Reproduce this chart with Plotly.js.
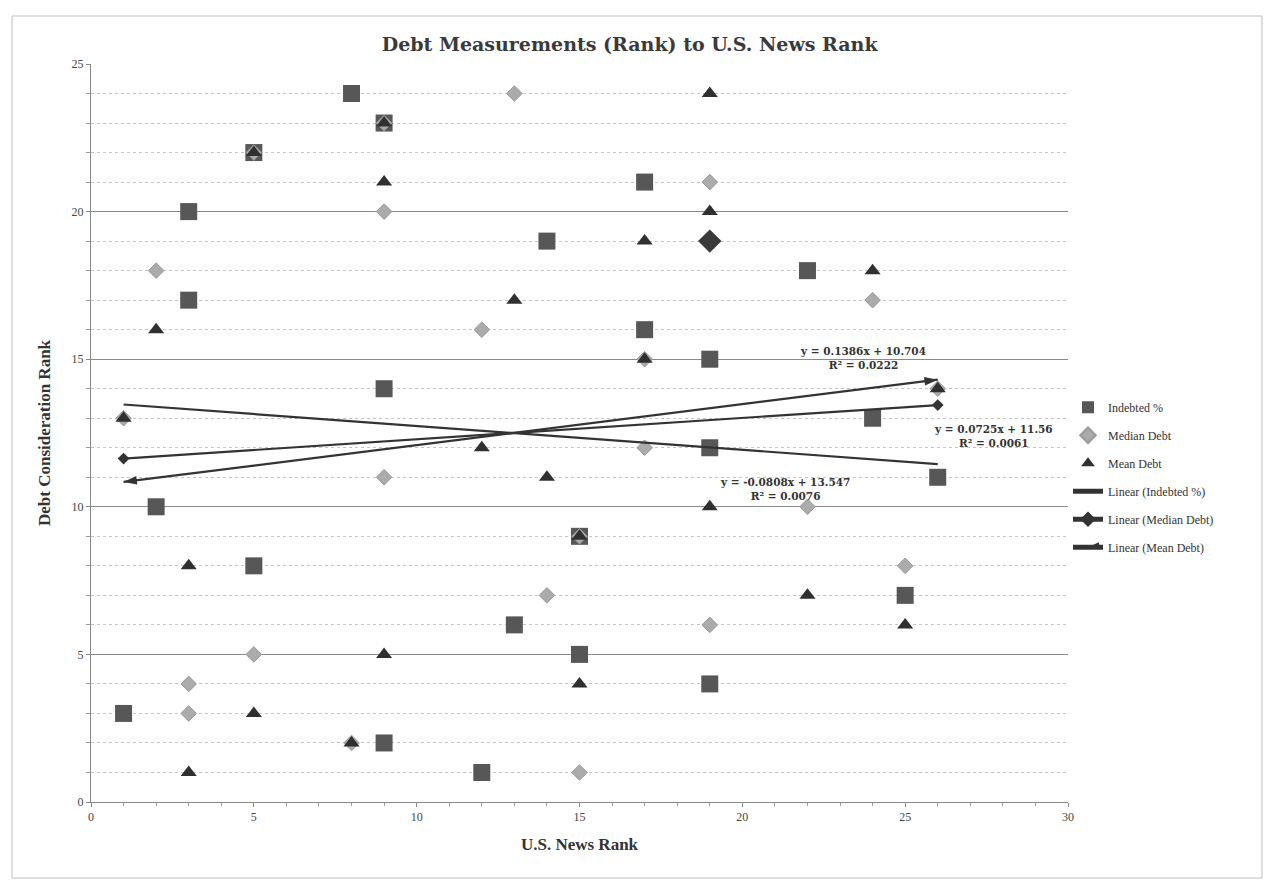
<!DOCTYPE html>
<html><head><meta charset="utf-8">
<script src="https://cdn.plot.ly/plotly-3.0.1.min.js"></script>
<style>html,body{margin:0;padding:0;background:#fff}</style>
</head><body><div id="chart" style="width:1272px;height:888px"></div>
<script>
// ---- data ----
const debtRank = [24,23,22,21,20,19,18,17,16,15,14,13,12,11,10,9,8,7,6,5,4,3,2,1];
const indebtedX = [8,9,5,17,3,14,22,3,17,19,9,24,19,26,2,15,5,25,13,15,19,1,9,12];
const medianX   = [13,9,5,19,9,19,2,24,12,17,26,1,17,9,22,15,25,14,19,5,3,3,8,15];
const meanX     = [19,9,5,9,19,17,24,13,2,17,26,1,12,14,19,15,3,22,25,9,15,5,8,3];
const highlightX = [19];
const highlightY = [19];
const seriesNames = ['Indebted %','Median Debt','Mean Debt'];
const trendNames = ['Linear (Indebted %)','Linear (Median Debt)','Linear (Mean Debt)'];
const equationTexts = ['y = -0.0808x + 13.547','y = 0.0725x + 11.56','y = 0.1386x + 10.704'];
const r2Texts = ['R\u00b2 = 0.0076','R\u00b2 = 0.0061','R\u00b2 = 0.0222'];
const labelPosX = [21.3, 27.7, 23.7];
const labelPosY = [10.6, 12.4, 15.05];

// ---- layout geometry ----
const W = 1272, H = 888, ML = 91, MR = 204, MT = 64, MB = 86;
const plotW = W - ML - MR, plotH = H - MT - MB;
const XR = [0,30], YR = [0,25];
const serif = 'Liberation Serif, DejaVu Serif, serif';
const wideSerif = 'DejaVu Serif, Liberation Serif, serif';

function fit(xs, ys){
  const n = xs.length;
  const mx = xs.reduce((a,b)=>a+b,0)/n, my = ys.reduce((a,b)=>a+b,0)/n;
  let sxy=0, sxx=0;
  for(let i=0;i<n;i++){ sxy += (xs[i]-mx)*(ys[i]-my); sxx += (xs[i]-mx)**2; }
  const m = sxy/sxx; return {m, b: my - m*mx, x0: Math.min(...xs), x1: Math.max(...xs)};
}
const fits = [fit(indebtedX, debtRank), fit(medianX, debtRank), fit(meanX, debtRank)];
function line(f){ return {x:[f.x0,f.x1], y:[f.m*f.x0+f.b, f.m*f.x1+f.b]}; }
function elev(f){ return Math.atan(f.m*(plotH/(YR[1]-YR[0]))/(plotW/(XR[1]-XR[0])))*180/Math.PI; }

const dark = '#333333';
const traces = [
  {type:'scatter', mode:'markers', name:seriesNames[0], x:indebtedX, y:debtRank, legendgroup:'a',
   marker:{symbol:'square', size:17, color:'#575757', line:{width:0}}},
  {type:'scatter', mode:'markers', name:seriesNames[1], x:medianX, y:debtRank, legendgroup:'b',
   marker:{symbol:'diamond', size:12, color:'#ababab', line:{width:1, color:'#999'}}},
  {type:'scatter', mode:'markers', name:seriesNames[2], x:meanX, y:debtRank, legendgroup:'c',
   marker:{symbol:'triangle-up', size:14, color:'#303030', line:{width:0}}},
  Object.assign({type:'scatter', mode:'lines', name:trendNames[0], legendgroup:'d',
   line:{color:dark, width:2.2}}, line(fits[0])),
  Object.assign({type:'scatter', mode:'lines+markers', name:trendNames[1], legendgroup:'e',
   line:{color:dark, width:2.2}, marker:{symbol:'diamond', size:9, color:dark}}, line(fits[1])),
  Object.assign({type:'scatter', mode:'lines+markers', name:trendNames[2], legendgroup:'f',
   line:{color:dark, width:2.2},
   marker:{symbol:'arrow', size:14, color:dark, angle:[270-elev(fits[2]), 90-elev(fits[2])]}}, line(fits[2])),
  {type:'scatter', mode:'markers', x:highlightX, y:highlightY, showlegend:false, hoverinfo:'skip',
   marker:{symbol:'diamond', size:18, color:'#3a3a3a'}}
];

const annotations = equationTexts.map((t,i)=>({
  x: labelPosX[i], y: labelPosY[i], xref:'x', yref:'y', showarrow:false,
  text: '<b>'+t+'</b><br><b>'+r2Texts[i]+'</b>', align:'center',
  font:{family:wideSerif, size:10.5, color:'#333'}
}));

const px2paperX = p => (p - ML)/plotW;
const px2paperY = p => (H - MB - p)/plotH;

const layout = {
  width:W, height:H, paper_bgcolor:'#fff', plot_bgcolor:'#fff',
  margin:{l:ML, r:MR, t:MT, b:MB},
  title:{text:'<b>Debt Measurements (Rank) to U.S. News Rank</b>', x:0.495, xref:'container',
         y:1-44/H, yanchor:'middle', font:{family:wideSerif, size:19, color:'#3a3a3a'}},
  xaxis:{range:XR, dtick:5, showgrid:false, zeroline:false, showline:true, linecolor:'#888', linewidth:1,
         ticks:'outside', ticklen:4, tickcolor:'#888',
         minor:{dtick:1, ticks:'outside', ticklen:3, tickcolor:'#999', showgrid:false},
         tickfont:{family:serif, size:12, color:'#444'},
         title:{text:'<b>U.S. News Rank</b>', standoff:14, font:{family:serif, size:17, color:'#333'}}},
  yaxis:{range:YR, dtick:5, showgrid:true, gridcolor:'#8a8a8a', gridwidth:1, zeroline:false,
         showline:true, linecolor:'#888', ticks:'outside', ticklen:4, tickcolor:'#888',
         minor:{dtick:1, showgrid:true, gridcolor:'#c4c4c4', griddash:'dot', gridwidth:1,
                ticks:'outside', ticklen:4, tickcolor:'#999'},
         tickfont:{family:serif, size:12, color:'#444'},
         title:{text:'<b>Debt Consideration Rank</b>', standoff:16, font:{family:serif, size:17, color:'#333'}}},
  legend:{x:1.0, xanchor:'left', y:0.44, yanchor:'middle', tracegroupgap:9, itemsizing:'constant',
          bgcolor:'rgba(0,0,0,0)', font:{family:serif, size:12, color:'#333'}},
  annotations: annotations,
  shapes:[{type:'rect', xref:'paper', yref:'paper', x0:px2paperX(12), x1:px2paperX(1262),
           y0:px2paperY(878), y1:px2paperY(16), line:{color:'#bdbdbd', width:1}, layer:'below'}],
  showlegend:true
};

Plotly.newPlot('chart', traces, layout, {displayModeBar:false, staticPlot:true});
</script></body></html>
